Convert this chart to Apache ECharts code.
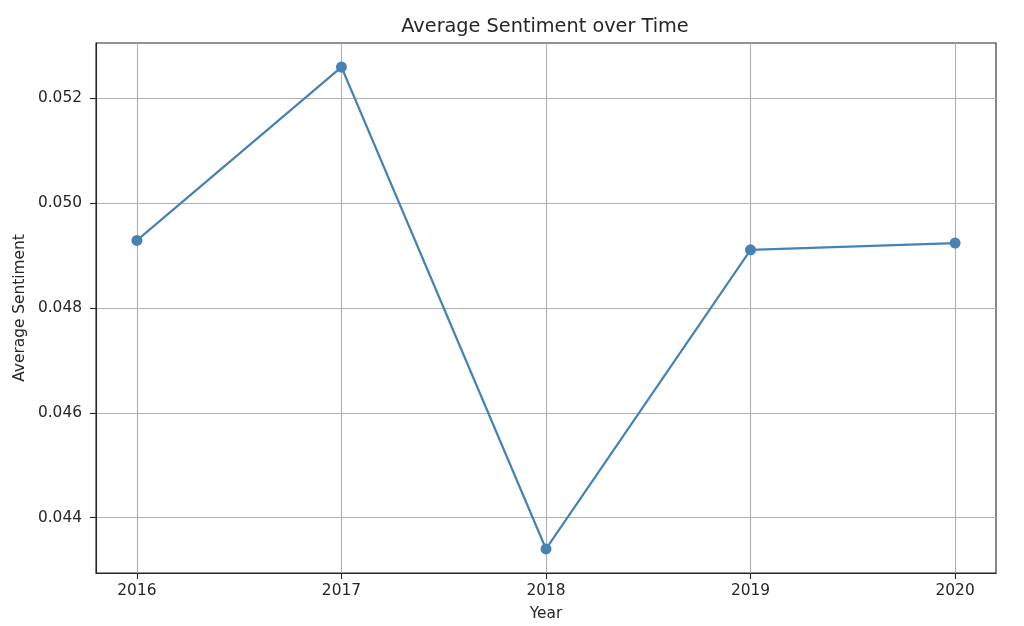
<!DOCTYPE html>
<html>
<head>
<meta charset="utf-8">
<script src="https://cdn.jsdelivr.net/npm/echarts@6/dist/echarts.min.js"></script>
<style>
  html, body { margin: 0; padding: 0; background: #fff; overflow: hidden; }
  #main { width: 1024px; height: 626px; }
</style>
</head>
<body>
<div id="main"></div>
<script>
var years = [2016, 2017, 2018, 2019, 2020];
var sentiment = [0.04929, 0.05260, 0.04340, 0.04911, 0.04924];
var yTicks = [0.044, 0.046, 0.048, 0.050, 0.052];

var myChart = echarts.init(document.getElementById('main'));

var font = 'DejaVu Sans';
var textColor = '#262626';

var seriesData = [];
for (var i = 0; i < years.length; i++) {
    seriesData.push([years[i], sentiment[i]]);
}

option = {
    animation: false,
    backgroundColor: '#fff',
    title: {
        text: 'Average Sentiment over Time',
        left: 540,
        textAlign: 'center',
        top: 12,
        textStyle: {
            fontFamily: font,
            fontSize: 19.3,
            fontWeight: 'normal',
            color: textColor
        }
    },
    grid: {
        left: 96,
        right: 28,
        top: 43,
        bottom: 48,
        show: true,
        borderColor: '#262626',
        borderWidth: 1.1,
        backgroundColor: 'transparent'
    },
    xAxis: {
        type: 'value',
        min: 2015.8,
        max: 2020.2,
        name: 'Year',
        nameLocation: 'middle',
        nameGap: 33,
        nameTextStyle: { fontFamily: font, fontSize: 15.4, color: textColor },
        axisLine: { show: true, lineStyle: { color: '#262626', width: 1.1 } },
        axisTick: {
            show: true,
            customValues: years,
            length: 6,
            lineStyle: { color: '#262626', width: 1.1 }
        },
        axisLabel: {
            customValues: years,
            margin: 10,
            fontFamily: font,
            fontSize: 15.4,
            color: textColor,
            formatter: function (v) { return String(v); }
        },
        splitLine: { show: true, lineStyle: { color: '#b0b0b0', width: 1.1 } }
    },
    yAxis: {
        type: 'value',
        min: 0.042941,
        max: 0.053059,
        name: 'Average Sentiment',
        nameLocation: 'middle',
        nameGap: 64,
        nameTextStyle: { fontFamily: font, fontSize: 15.4, color: textColor },
        axisLine: { show: true, lineStyle: { color: '#262626', width: 1.1 } },
        axisTick: {
            show: true,
            customValues: yTicks,
            length: 6,
            lineStyle: { color: '#262626', width: 1.1 }
        },
        axisLabel: {
            customValues: yTicks,
            margin: 14,
            fontFamily: font,
            fontSize: 15.4,
            color: textColor,
            formatter: function (v) { return v.toFixed(3); }
        },
        splitLine: { show: true, lineStyle: { color: '#b0b0b0', width: 1.1 } }
    },
    series: [{
        type: 'line',
        data: seriesData,
        symbol: 'circle',
        symbolSize: 11,
        lineStyle: { color: '#4682b4', width: 2.2 },
        itemStyle: { color: '#4682b4' }
    }]
};

myChart.setOption(option);
</script>
</body>
</html>
